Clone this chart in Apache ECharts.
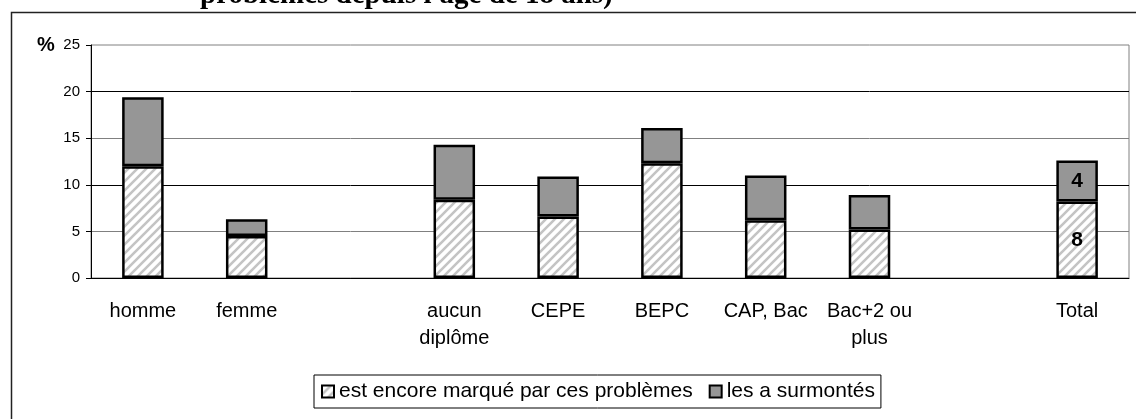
<!DOCTYPE html>
<html><head><meta charset="utf-8">
<script src="https://cdn.jsdelivr.net/npm/echarts@6/dist/echarts.min.js"></script>
<style>html,body{margin:0;padding:0;background:#fff}#c{width:1136px;height:419px}</style>
</head><body><div id="c"></div>
<script>
const categories = ['homme', 'femme', '', 'aucun\ndiplôme', 'CEPE', 'BEPC', 'CAP, Bac', 'Bac+2 ou\nplus', '', 'Total'];
const encoreMarque = [12.0, 4.5, null, 8.4, 6.6, 12.3, 6.2, 5.2, null, 8.2];
const surmontes = [7.4, 1.8, null, 5.9, 4.3, 3.8, 4.8, 3.7, null, 4.4];
const seriesNames = ['est encore marqué par ces problèmes', 'les a surmontés'];
const labelledIndex = 9;
const titleText = "problèmes depuis l'âge de 18 ans)";

function hatch() {
  const s = 9, c = document.createElement('canvas');
  c.width = s; c.height = s;
  const g = c.getContext('2d');
  g.fillStyle = '#fff'; g.fillRect(0, 0, s, s);
  g.strokeStyle = '#c4c4c4'; g.lineWidth = 2.6;
  g.beginPath();
  g.moveTo(-s, s); g.lineTo(s, -s);
  g.moveTo(0, s); g.lineTo(s, 0);
  g.moveTo(0, 2 * s); g.lineTo(2 * s, 0);
  g.stroke();
  return c;
}
const font = "Arial, 'Liberation Sans', sans-serif";
const withLabel = arr => arr.map((v, i) => i === labelledIndex ? { value: v, label: { show: true } } : v);

const chart = echarts.init(document.getElementById('c'), null, { renderer: 'canvas' });
chart.setOption({
  animation: false,
  backgroundColor: '#fff',
  textStyle: { fontFamily: font },
  grid: { left: 91, top: 45, right: 7, bottom: 141, show: true, borderColor: '#808080', borderWidth: 1, backgroundColor: 'transparent' },
  xAxis: {
    type: 'category', data: categories,
    axisLine: { lineStyle: { color: '#000', width: 1 } },
    axisTick: { length: 6, lineStyle: { color: '#000' } },
    axisLabel: { color: '#000', fontSize: 20, fontFamily: font, margin: 20, lineHeight: 27, interval: 0 }
  },
  yAxis: {
    type: 'value', min: 0, max: 25, interval: 5,
    axisLine: { show: true, lineStyle: { color: '#000', width: 1 } },
    axisTick: { show: true, length: 5, lineStyle: { color: '#000' } },
    axisLabel: { color: '#000', fontSize: 15, fontFamily: font, margin: 11 },
    splitLine: { show: true, showMaxLine: false, lineStyle: { color: ['#000', '#808080'], width: 1 } }
  },
  legend: {
    left: 314, top: 375, orient: 'horizontal', icon: 'rect',
    padding: [6, 6, 6, 7], itemGap: 16, itemWidth: 12, itemHeight: 12,
    borderColor: '#000', borderWidth: 1,
    textStyle: { color: '#000', fontSize: 21, fontFamily: font },
    itemStyle: { borderColor: '#000', borderWidth: 2 },
    data: seriesNames
  },
  series: [
    {
      name: seriesNames[0], type: 'bar', stack: 'a', barWidth: '40%',
      data: withLabel(encoreMarque),
      itemStyle: { color: { image: hatch(), repeat: 'repeat' }, borderColor: '#000', borderWidth: 2.5 },
      label: { show: false, position: 'inside', color: '#000', fontSize: 21, fontWeight: 'bold', fontFamily: font, formatter: p => Math.round(p.value) }
    },
    {
      name: seriesNames[1], type: 'bar', stack: 'a', barWidth: '40%',
      data: withLabel(surmontes),
      itemStyle: { color: '#969696', borderColor: '#000', borderWidth: 2.5 },
      label: { show: false, position: 'inside', color: '#000', fontSize: 21, fontWeight: 'bold', fontFamily: font, formatter: p => Math.round(p.value) }
    }
  ],
  graphic: [
    { type: 'rect', silent: true, shape: { x: 11.5, y: 12.5, width: 1300, height: 600 }, style: { fill: 'none', stroke: '#222', lineWidth: 1.5 } },
    { type: 'text', left: 37, top: 35, style: { text: '%', fontSize: 20, fontWeight: 'bold', fontFamily: font, fill: '#000' } },
    { type: 'text', x: 200, y: -4, style: { text: titleText, fontSize: 29, fontWeight: 'bold', fontFamily: "'Liberation Serif', 'Times New Roman', serif", fill: '#000', verticalAlign: 'middle', align: 'left' } }
  ]
});
</script></body></html>
